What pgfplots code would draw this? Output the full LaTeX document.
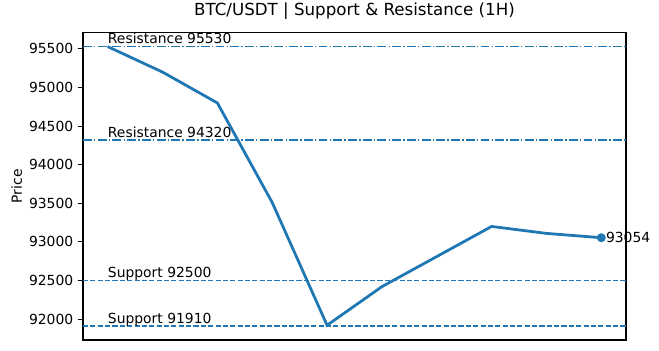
\documentclass[border=0pt]{standalone}
\usepackage{pgfplots}
\pgfplotsset{compat=1.18}
\usepackage{fontspec}
\setmainfont{DejaVu Sans}
\definecolor{tabblue}{HTML}{1F77B4}
\begin{document}
\begin{tikzpicture}
\useasboundingbox (-59.76pt,-7.2pt) rectangle ++(474.48pt,252pt);
\begin{axis}[
  at={(0,0)}, anchor=south west,
  scale only axis, width=390.96pt, height=221.3pt,
  xmin=-0.45, xmax=9.45, ymin=91729, ymax=95711,
  xtick=\empty,
  ytick={92000,92500,93000,93500,94000,94500,95000,95500},
  scaled y ticks=false,
  yticklabel style={/pgf/number format/fixed, /pgf/number format/precision=0},
  /pgf/number format/assume math mode=true,
  /pgf/number format/set thousands separator={},
  tick align=outside, tick pos=left,
  major tick length=3.5pt,
  every tick/.style={black, line width=0.8pt},
  axis line style={line width=0.8pt},
  tick label style={font=\fontsize{10}{12}\selectfont},
  title={BTC/USDT | Support \& Resistance (1H)},
  title style={font=\fontsize{12}{14}\selectfont, anchor=base, yshift=6pt},
  clip=false,
]
\addplot[tabblue, line width=1pt, dash pattern=on 6.4pt off 1.6pt on 1pt off 1.6pt] coordinates {(-0.45,95530) (9.45,95530)};
\addplot[tabblue, line width=1pt, dash pattern=on 6.4pt off 1.6pt on 1pt off 1.6pt] coordinates {(-0.45,94320) (9.45,94320)};
\addplot[tabblue, line width=1pt, dash pattern=on 3.7pt off 1.6pt] coordinates {(-0.45,92500) (9.45,92500)};
\addplot[tabblue, line width=1pt, dash pattern=on 3.7pt off 1.6pt] coordinates {(-0.45,91910) (9.45,91910)};
\addplot[tabblue, line width=2pt, mark=none] coordinates {
(0,95530) (1,95200) (2,94800) (3,93510) (4,91920) (5,92420) (6,92810) (7,93200) (8,93110) (9,93054)};
\addplot[only marks, mark=*, mark size=3pt, tabblue, mark options={draw=tabblue, fill=tabblue}] coordinates {(9,93054)};
\node[anchor=base west, inner sep=0pt, font=\fontsize{10}{12}\selectfont] at (axis cs:0,95565) {Resistance 95530};
\node[anchor=base west, inner sep=0pt, font=\fontsize{10}{12}\selectfont] at (axis cs:0,94355) {Resistance 94320};
\node[anchor=base west, inner sep=0pt, font=\fontsize{10}{12}\selectfont] at (axis cs:0,92535) {Support 92500};
\node[anchor=base west, inner sep=0pt, font=\fontsize{10}{12}\selectfont] at (axis cs:0,91945) {Support 91910};
\node[anchor=west, inner sep=0pt, xshift=3.2pt, font=\fontsize{10}{12}\selectfont] at (axis cs:9,93054) {93054};
\end{axis}
\node[rotate=90, anchor=center, inner sep=0pt, font=\fontsize{10}{12}\selectfont] at (-47.7pt,110.6pt) {Price};
\end{tikzpicture}
\end{document}
